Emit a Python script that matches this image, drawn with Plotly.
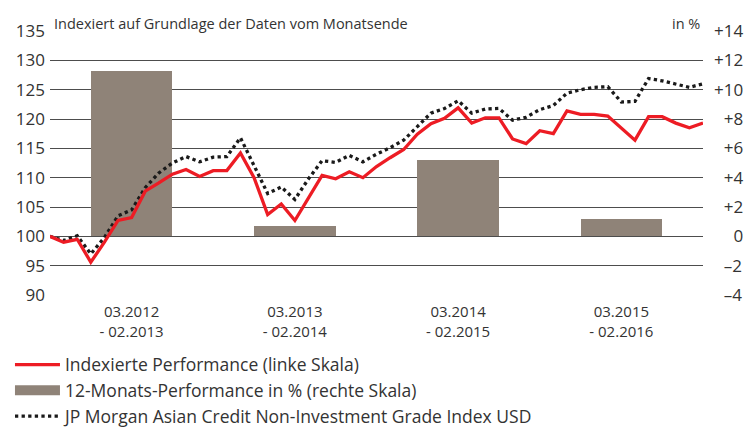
import plotly.graph_objects as go

# Monthly index values, month 0 = 02.2012 ... month 48 = 02.2016
months = list(range(49))
fund_index = [100.0, 99.0, 99.5, 95.6, 99.0, 102.7, 103.2, 107.7, 109.1, 110.6,
              111.4, 110.2, 111.2, 111.2, 114.2, 110.0, 103.7, 105.5, 102.7, 106.6,
              110.4, 109.8, 111.0, 110.0, 111.9, 113.4, 114.8, 117.4, 119.2, 120.1,
              121.9, 119.3, 120.2, 120.2, 116.6, 115.8, 118.0, 117.5, 121.4, 120.8,
              120.8, 120.5, 118.4, 116.4, 120.4, 120.4, 119.3, 118.5, 119.3]
benchmark_index = [100.0, 99.3, 100.1, 97.0, 99.8, 103.5, 104.5, 108.3, 110.8, 112.5,
                   113.6, 112.7, 113.5, 113.6, 116.8, 112.2, 107.3, 108.4, 106.3, 109.8,
                   112.9, 112.6, 113.8, 112.7, 114.0, 115.1, 116.4, 118.7, 121.0, 121.8,
                   123.1, 121.0, 121.7, 121.8, 119.8, 120.3, 121.6, 122.3, 124.4, 125.0,
                   125.4, 125.5, 122.9, 123.0, 126.9, 126.5, 126.0, 125.4, 126.0]

# 12-month periods
period_labels = ["03.2012<br>- 02.2013", "03.2013<br>- 02.2014",
                 "03.2014<br>- 02.2015", "03.2015<br>- 02.2016"]
period_perf = [11.3, 0.7, 5.2, 1.2]
period_center = [12 * k + 6 for k in range(len(period_labels))]

left_ticks = list(range(90, 136, 5))
right_ticks = list(range(-4, 15, 2))
FS = "\u2007"  # figure space, to right-align the right-hand labels
right_ticktext = []
for v in right_ticks:
    if v == 0:
        right_ticktext.append(FS + FS + "0")
    elif v > 0:
        s = "+%d" % v
        right_ticktext.append(FS * (3 - len(s)) + s)
    else:
        right_ticktext.append(FS + "\u2013%d" % abs(v))

FONT = "Open Sans"
TXT = "#333333"
BAR = "#8f8378"

fig = go.Figure()

# bars on the primary (right-hand, %) axis so that the lines overlay them
fig.add_trace(go.Bar(
    x=period_center, y=period_perf, width=6, yaxis="y",
    name="12-Monats-Performance in % (rechte Skala)",
    marker=dict(color=BAR, line=dict(width=0)),
    showlegend=False,
))
fig.add_trace(go.Scatter(
    x=months, y=benchmark_index, mode="lines", yaxis="y2",
    name="JP Morgan Asian Credit Non-Investment Grade Index USD",
    line=dict(color="#1a1a1a", width=3.3, dash="dot"),
    legendrank=3,
))
fig.add_trace(go.Scatter(
    x=months, y=fund_index, mode="lines", yaxis="y2",
    name="Indexierte Performance (linke Skala)",
    line=dict(color="#ed1c24", width=3.3),
    legendrank=1,
))
# legend key for the bars (wide swatch as in the original)
fig.add_trace(go.Scatter(
    x=[None], y=[None], mode="lines", yaxis="y",
    name="12-Monats-Performance in % (rechte Skala)",
    line=dict(color=BAR, width=12),
    legendrank=2, hoverinfo="skip",
))

# the page body adds an 8px margin, so the figure is 8px smaller than the window
fig.update_layout(
    width=747, height=422,
    margin=dict(l=42, r=52, t=23, b=135, autoexpand=False),
    paper_bgcolor="white", plot_bgcolor="white",
    font=dict(family=FONT, color=TXT, size=15),
    showlegend=True,
    bargap=0,
    xaxis=dict(range=[0, 48], tickvals=period_center, ticktext=period_labels,
               showgrid=False, zeroline=False, showline=False, ticks="",
               ticklabelstandoff=6,
               tickfont=dict(size=15, color=TXT), fixedrange=True),
    yaxis=dict(range=[-4, 14], tickvals=right_ticks, ticktext=right_ticktext,
               side="right", showgrid=False, zeroline=False,
               showline=False, ticks="", ticklabelstandoff=10,
               tickfont=dict(size=17, color=TXT)),
    yaxis2=dict(range=[90, 135], tickvals=left_ticks, showgrid=True,
                gridcolor="#4d4d4d", gridwidth=1, zeroline=False, showline=False,
                overlaying="y", side="left",
                ticks="", ticklabelstandoff=4, tickfont=dict(size=17, color=TXT)),
    legend=dict(x=-0.0613, y=-0.196, xanchor="left", yanchor="top",
                orientation="v", font=dict(size=17.5, color=TXT),
                itemwidth=45, tracegroupgap=0, bgcolor="rgba(0,0,0,0)"),
    annotations=[
        dict(text="Indexiert auf Grundlage der Daten vom Monatsende",
             xref="paper", yref="paper", x=0.003, y=1, xanchor="left",
             yanchor="bottom", showarrow=False, yshift=-4,
             font=dict(size=14.5, color=TXT)),
        dict(text="in %", xref="paper", yref="paper", x=0.998, y=1,
             xanchor="right", yanchor="bottom", showarrow=False, yshift=-4,
             font=dict(size=14.5, color=TXT)),
    ],
)

fig.write_html("out.html")
